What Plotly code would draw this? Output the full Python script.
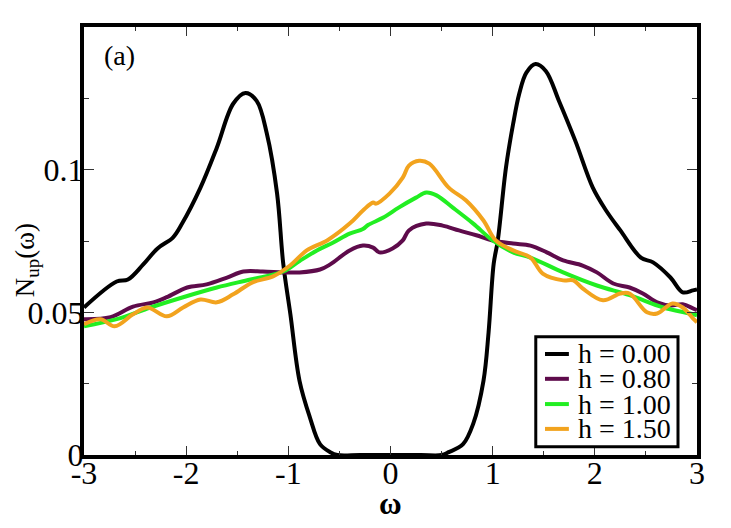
import plotly.graph_objects as go

# omega grid and N_up values, one pair per field h
w_h000 = [-3.0, -2.68, -2.57, -2.42, -2.28, -2.13, -2.04, -1.86, -1.70, -1.54, -1.42,
          -1.31, -1.21, -1.11, -1.05, -0.98, -0.89, -0.79, -0.69, -0.59, -0.52, -0.3, 0.0,
          0.3, 0.5, 0.57, 0.71, 0.81, 0.91, 0.96, 1.01, 1.05, 1.13, 1.20, 1.26, 1.33, 1.42,
          1.52, 1.65, 1.81, 1.98, 2.11, 2.25, 2.45, 2.57, 2.74, 2.86, 2.96, 3.0]
n_h000 = [0.0517, 0.0608, 0.0615, 0.0668, 0.0724, 0.0762, 0.0811, 0.0937, 0.1077, 0.1231, 0.1269,
          0.1241, 0.1126, 0.0916, 0.0671, 0.0493, 0.0259, 0.0133, 0.0038, 0.001, 0.0, 0.0, 0.0,
          0.0, 0.0, 0.001, 0.0038, 0.011, 0.026, 0.043, 0.067, 0.0752, 0.1007, 0.116, 0.1266, 0.134, 0.137,
          0.1346, 0.124, 0.110, 0.0937, 0.0857, 0.0787, 0.0692, 0.0675, 0.0622, 0.057, 0.0577, 0.058]

w_h080 = [-3.0, -2.74, -2.52, -2.32, -2.19, -1.99, -1.80, -1.60, -1.44, -1.25, -1.05, -0.89,
          -0.69, -0.59, -0.40, -0.27, -0.17, -0.11, 0.02, 0.12, 0.18, 0.35, 0.51, 0.67, 0.84,
          1.0, 1.2, 1.37, 1.53, 1.69, 1.88, 2.02, 2.18, 2.34, 2.47, 2.61, 2.74, 2.86, 2.96, 3.0]
n_h080 = [0.0476, 0.0483, 0.052, 0.0535, 0.0553, 0.0587, 0.0598, 0.0622, 0.0643, 0.0643, 0.064, 0.064,
          0.065, 0.0668, 0.0717, 0.0734, 0.0727, 0.071, 0.0724, 0.0752, 0.0787, 0.0811, 0.0804, 0.0787, 0.077,
          0.0752, 0.0741, 0.0734, 0.071, 0.0682, 0.0664, 0.064, 0.0601, 0.0587, 0.0566, 0.0535, 0.0524, 0.0528, 0.0514, 0.0508]

w_h100 = [-3.0, -2.68, -2.35, -2.03, -1.70, -1.37, -1.05, -0.89, -0.72, -0.56, -0.40, -0.27,
          -0.22, -0.07, 0.08, 0.25, 0.35, 0.45, 0.61, 0.81, 1.0, 1.2, 1.37, 1.69, 2.02, 2.34,
          2.67, 2.93, 3.0]
n_h100 = [0.0451, 0.0476, 0.0517, 0.0553, 0.0587, 0.0615, 0.0643, 0.068, 0.0717, 0.0745, 0.0776, 0.0792,
          0.0806, 0.0832, 0.0867, 0.0902, 0.092, 0.091, 0.0867, 0.0811, 0.0752, 0.071, 0.0692, 0.064, 0.0594, 0.056,
          0.0517, 0.0496, 0.049]

w_h150 = [-3.0, -2.84, -2.70, -2.52, -2.38, -2.19, -2.03, -1.86, -1.70, -1.54, -1.35, -1.15,
          -0.98, -0.82, -0.62, -0.40, -0.27, -0.17, -0.14, -0.01, 0.12, 0.18, 0.28, 0.38, 0.57,
          0.74, 0.91, 1.03, 1.2, 1.37, 1.49, 1.69, 1.79, 1.88, 2.08, 2.25, 2.34, 2.51, 2.61,
          2.76, 2.86, 2.96, 3.0]
n_h150 = [0.0458, 0.0476, 0.0451, 0.0493, 0.0517, 0.0486, 0.0517, 0.0545, 0.0535, 0.0563, 0.0605, 0.0626,
          0.0665, 0.0717, 0.0752, 0.0811, 0.0857, 0.0885, 0.0881, 0.0916, 0.0972, 0.1014, 0.1031, 0.1021, 0.0937,
          0.0892, 0.0822, 0.0752, 0.0717, 0.0692, 0.0636, 0.0612, 0.0612, 0.0584, 0.0542, 0.0566, 0.0566, 0.050, 0.0496,
          0.0531, 0.0517, 0.0479, 0.0465]

x_ticks = [-3, -2, -1, 0, 1, 2, 3]
x_labels = ["-3", "-2", "-1", "0", "1", "2", "3"]
y_ticks = [0, 0.05, 0.1]
y_labels = ["0", "0.05", "0.1"]

series = [
    ("h = 0.00", w_h000, n_h000, "#000000"),
    ("h = 0.80", w_h080, n_h080, "#5e0b4b"),
    ("h = 1.00", w_h100, n_h100, "#22ee22"),
    ("h = 1.50", w_h150, n_h150, "#f2a31e"),
]

serif = "Liberation Serif"

fig = go.Figure()
for name, w, n, col in series:
    fig.add_trace(go.Scatter(x=w, y=n, mode="lines", name=name, showlegend=False,
                             line=dict(color=col, width=4, shape="spline", smoothing=1.0)))

# grace-style legend box (tight rows), bottom right of the frame
fig.add_shape(type="rect", xref="paper", yref="paper", x0=0.737, x1=0.969, y0=0.019, y1=0.276,
              line=dict(color="black", width=3), fillcolor="white", layer="above")
row_y = [0.236, 0.178, 0.119, 0.061]
for (name, w, n, col), ry in zip(series, row_y):
    fig.add_shape(type="line", xref="paper", yref="paper", x0=0.752, x1=0.791, y0=ry, y1=ry,
                  line=dict(color=col, width=4), layer="above")
    fig.add_annotation(text=name, xref="paper", yref="paper", x=0.803, y=ry,
                       xanchor="left", yanchor="middle", showarrow=False,
                       font=dict(family=serif, size=28, color="black"))

fig.update_xaxes(range=[-3, 3], tickvals=x_ticks, ticktext=x_labels, automargin=False,
                 ticks="inside", ticklen=9, tickwidth=1, tickcolor="#333",
                 minor=dict(ticks="inside", ticklen=4, dtick=0.5, tickcolor="#333"),
                 showline=True, linewidth=4, linecolor="black", mirror="ticks",
                 showgrid=False, zeroline=False, ticklabelstandoff=-13,
                 tickfont=dict(family=serif, size=32, color="black"))
fig.update_yaxes(range=[0, 0.15], tickvals=y_ticks, ticktext=y_labels, automargin=False,
                 ticks="inside", ticklen=10, tickwidth=1, tickcolor="#333",
                 minor=dict(ticks="inside", ticklen=5, dtick=0.025, tickcolor="#333"),
                 showline=True, linewidth=4, linecolor="black", mirror="ticks",
                 showgrid=False, zeroline=False, ticklabelstandoff=-10,
                 tickfont=dict(family=serif, size=32, color="black"))

# axis titles placed as in the original
fig.add_annotation(text="<b>ω</b>", x=0.5, y=-0.113, xref="paper", yref="paper",
                   xanchor="center", yanchor="middle", showarrow=False,
                   font=dict(family=serif, size=31, color="black"))
fig.add_annotation(text="N<sub>up</sub>(ω)", x=-0.093, y=0.455, xref="paper", yref="paper",
                   xanchor="center", yanchor="middle", showarrow=False, textangle=-90,
                   font=dict(family=serif, size=27, color="black"))

fig.add_annotation(text="(a)", x=0.03, y=0.975, xref="paper", yref="paper",
                   xanchor="left", yanchor="top", showarrow=False,
                   font=dict(family=serif, size=28, color="black"))

# the page body adds an 8px margin, so the figure is 8px smaller than the window
fig.update_layout(width=723, height=520,
                  margin=dict(l=76, r=34, t=19, b=73),
                  plot_bgcolor="white", paper_bgcolor="white")

fig.write_html("out.html")
